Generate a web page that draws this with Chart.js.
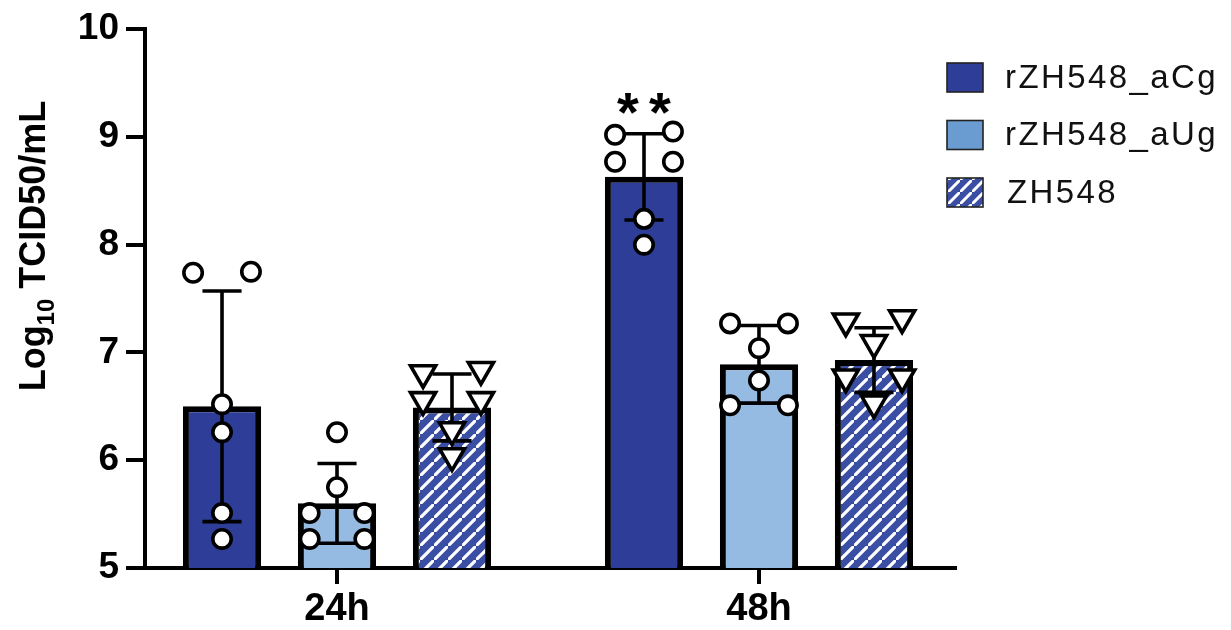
<!DOCTYPE html>
<html>
<head>
<meta charset="utf-8">
<script src="https://cdn.jsdelivr.net/npm/chart.js@4.4.0/dist/chart.umd.min.js"></script>
<style>
html,body{margin:0;padding:0;background:#fff;}
#wrap{width:1231px;height:630px;position:relative;}
canvas{display:block;}
</style>
</head>
<body>
<div id="wrap"><canvas id="c" width="1231" height="630"></canvas></div>
<script>
// ---------------- DATA ----------------
const categories = ['24h', '48h'];
const seriesNames = ['rZH548_aCg', 'rZH548_aUg', 'ZH548'];
const yTicks = [5, 6, 7, 8, 9, 10];

// bar heights (mean) and SD, per category
const meanACg = [6.50, 8.63];
const sdACg   = [1.07, 0.40];
const meanAUg = [5.60, 6.89];
const sdAUg   = [0.37, 0.36];
const meanZH  = [6.49, 6.93];
const sdZH    = [0.31, 0.30];

// individual replicate values
const repACg24 = [7.74, 7.75, 6.52, 6.26, 5.51, 5.27];
const repACg48 = [9.02, 9.05, 8.77, 8.77, 8.24, 8.00];
const repAUg24 = [6.26, 5.75, 5.51, 5.51, 5.27, 5.27];
const repAUg48 = [7.27, 7.27, 7.04, 6.74, 6.51, 6.51];
const repZH24  = [6.81, 6.84, 6.56, 6.56, 6.28, 6.04];
const repZH48  = [7.29, 7.32, 7.09, 6.77, 6.77, 6.53];

// significance labels above rZH548_aCg bars
const sigACg = ['', '**'];

// ---------------- LAYOUT / STYLE ----------------
const FONT = "'Liberation Sans', Arial, Helvetica, sans-serif";
const CAT_PCT = 0.8175, BAR_PCT = 0.68;
// horizontal scatter of replicate points, in fractions of bar width
const jitACg24 = [-0.37, 0.37, 0, 0, 0, 0];
const jitACg48 = [-0.37, 0.37, -0.37, 0.37, 0, 0];
const jitAUg24 = [0, 0, -0.35, 0.35, -0.35, 0.35];
const jitAUg48 = [-0.37, 0.37, 0, 0, -0.37, 0.37];
const jitZH24  = [-0.37, 0.37, -0.37, 0.37, 0, 0];
const jitZH48  = [-0.36, 0.36, 0, -0.36, 0.36, 0];

const COL_DARK = '#2e3e98';
const COL_LIGHT = '#95bbe2';
const COL_LIGHT_LEG = '#6a9cd2';
const COL_HATCH = '#3a4fa4';

function makeHatch(size, lw) {
  const c = document.createElement('canvas');
  c.width = size; c.height = size;
  const x = c.getContext('2d');
  x.fillStyle = COL_HATCH; x.fillRect(0, 0, size, size);
  x.strokeStyle = '#ffffff'; x.lineWidth = lw;
  x.beginPath();
  x.moveTo(-size, size * 2); x.lineTo(size * 2, -size);
  x.moveTo(-size * 2, size); x.lineTo(size, -size * 2);
  x.moveTo(0, size * 2.999); x.lineTo(size * 3, 0);
  x.stroke();
  return x.createPattern(c, 'repeat');
}
const hatch = makeHatch(14, 3.2);
const hatchLeg = makeHatch(12, 3);

const barSeries = [
  { name: seriesNames[0], mean: meanACg, sd: sdACg, fill: COL_DARK, leg: COL_DARK, reps: [repACg24, repACg48], jit: [jitACg24, jitACg48], shape: 'circle' },
  { name: seriesNames[1], mean: meanAUg, sd: sdAUg, fill: COL_LIGHT, leg: COL_LIGHT_LEG, reps: [repAUg24, repAUg48], jit: [jitAUg24, jitAUg48], shape: 'circle' },
  { name: seriesNames[2], mean: meanZH, sd: sdZH, fill: hatch, leg: hatchLeg, reps: [repZH24, repZH48], jit: [jitZH24, jitZH48], shape: 'triangle' }
];

const chunkUnits = CAT_PCT / barSeries.length;   // one bar slot, in category units
const barUnits = chunkUnits * BAR_PCT;            // bar width, in category units

const datasets = [];
barSeries.forEach((s, k) => {
  datasets.push({
    type: 'bar',
    label: s.name,
    data: categories.map((c, i) => ({ x: i, y: s.mean[i] })),
    backgroundColor: s.fill,
    borderColor: '#000',
    borderWidth: 6,
    borderSkipped: 'start',
    categoryPercentage: CAT_PCT,
    barPercentage: BAR_PCT,
    order: 3
  });
});
barSeries.forEach((s, k) => {
  const pts = [];
  categories.forEach((c, i) => {
    const center = i + (k - (barSeries.length - 1) / 2) * chunkUnits;
    s.reps[i].forEach((v, j) => pts.push({ x: center + s.jit[i][j] * barUnits, y: v }));
  });
  datasets.push({
    type: 'scatter',
    label: s.name + ' replicates',
    data: pts,
    pointStyle: s.shape,
    rotation: s.shape === 'triangle' ? 180 : 0,
    pointRadius: s.shape === 'triangle' ? 14.5 : 9.2,
    pointBackgroundColor: '#fff',
    pointBorderColor: '#000',
    pointBorderWidth: 3.6,
    showLine: false,
    order: 1
  });
});

// ---------------- PLUGINS ----------------
let errDrawn = false;
function drawErrorBars(chart) {
  const ctx = chart.ctx, yS = chart.scales.y;
  barSeries.forEach((s, k) => {
    const meta = chart.getDatasetMeta(k);
    meta.data.forEach((el, i) => {
      const x = el.x, half = el.width * 0.25;
      const yt = yS.getPixelForValue(s.mean[i] + s.sd[i]);
      const yb = yS.getPixelForValue(s.mean[i] - s.sd[i]);
      ctx.save();
      ctx.strokeStyle = '#000'; ctx.lineWidth = 3.6; ctx.lineCap = 'butt';
      ctx.beginPath();
      ctx.moveTo(x, yt); ctx.lineTo(x, yb);
      ctx.moveTo(x - half, yt); ctx.lineTo(x + half, yt);
      ctx.moveTo(x - half, yb); ctx.lineTo(x + half, yb);
      ctx.stroke();
      ctx.restore();
    });
  });
}
const errorBarPlugin = {
  id: 'errorBars',
  beforeDatasetsDraw() { errDrawn = false; },
  beforeDatasetDraw(chart, args) {
    if (!errDrawn && chart.data.datasets[args.index].type === 'scatter') {
      drawErrorBars(chart); errDrawn = true;
    }
  },
  afterDatasetsDraw(chart) {
    if (!errDrawn) { drawErrorBars(chart); errDrawn = true; }
    // significance stars
    const ctx = chart.ctx, yS = chart.scales.y;
    const meta = chart.getDatasetMeta(0);
    sigACg.forEach((txt, i) => {
      if (!txt) return;
      const el = meta.data[i];
      const yTop = yS.getPixelForValue(meanACg[i] + sdACg[i]);
      ctx.save();
      ctx.fillStyle = '#000';
      ctx.font = '700 56px ' + FONT;
      ctx.textAlign = 'center'; ctx.textBaseline = 'alphabetic';
      const n = txt.length, gap = 32;
      for (let q = 0; q < n; q++) {
        ctx.fillText(txt[q], el.x + (q - (n - 1) / 2) * gap, yTop - 3);
      }
      ctx.restore();
    });
  }
};

const axisTitlePlugin = {
  id: 'axisTitle',
  afterDraw(chart) {
    const ctx = chart.ctx;
    ctx.save();
    ctx.translate(45, 246);
    ctx.rotate(-Math.PI / 2);
    ctx.fillStyle = '#000';
    ctx.textBaseline = 'alphabetic';
    ctx.textAlign = 'left';
    const mainF = '700 36px ' + FONT, subF = '700 24px ' + FONT;
    const p1 = 'Log', p2 = '10', p3 = ' TCID50/mL';
    ctx.font = mainF; const w1 = ctx.measureText(p1).width, w3 = ctx.measureText(p3).width;
    ctx.font = subF; const w2 = ctx.measureText(p2).width;
    let x = -(w1 + w2 + w3) / 2;
    ctx.font = mainF; ctx.fillText(p1, x, 0); x += w1;
    ctx.font = subF; ctx.fillText(p2, x, 9); x += w2;
    ctx.font = mainF; ctx.fillText(p3, x, 0);
    ctx.restore();
  }
};

const legendPlugin = {
  id: 'customLegend',
  afterDraw(chart) {
    const ctx = chart.ctx;
    barSeries.forEach((s, k) => {
      const bx = 947, by = 63 + k * 57.5, bw = 36, bh = 29;
      ctx.save();
      ctx.fillStyle = s.leg;
      ctx.fillRect(bx, by, bw, bh);
      ctx.strokeStyle = '#222'; ctx.lineWidth = 1.6;
      ctx.strokeRect(bx, by, bw, bh);
      ctx.fillStyle = '#111';
      ctx.font = '400 33px ' + FONT;
      if ('letterSpacing' in ctx) ctx.letterSpacing = '2.4px';
      ctx.textAlign = 'left'; ctx.textBaseline = 'middle';
      ctx.fillText(s.name, k === 2 ? 1007 : 1005, by + bh / 2 + 1);
      ctx.restore();
    });
  }
};

// ---------------- CHART ----------------
new Chart(document.getElementById('c'), {
  type: 'bar',
  data: { datasets },
  options: {
    responsive: false,
    animation: false,
    devicePixelRatio: 1,
    layout: { padding: { left: 0, top: 27, right: 276, bottom: 0 } },
    plugins: { legend: { display: false }, tooltip: { enabled: false } },
    scales: {
      x: {
        type: 'linear',
        offset: false,
        min: -0.455,
        max: 1.4645,
        afterBuildTicks: ax => { ax.ticks = categories.map((c, i) => ({ value: i })); },
        afterFit: s => { s.height = 62; },
        ticks: {
          autoSkip: false, maxRotation: 0, padding: 3, color: '#000',
          font: { family: FONT, size: 38, weight: '700' },
          callback: v => categories[v] !== undefined ? categories[v] : ''
        },
        grid: { display: true, offset: false, drawOnChartArea: false, drawTicks: true, tickLength: 16, color: '#000', lineWidth: 4 },
        border: { display: true, color: '#000', width: 4 }
      },
      y: {
        type: 'linear',
        min: yTicks[0],
        max: yTicks[yTicks.length - 1],
        afterBuildTicks: ax => { ax.ticks = yTicks.map(v => ({ value: v })); },
        afterFit: s => { s.width = 145; },
        ticks: {
          padding: 7, color: '#000',
          font: { family: FONT, size: 37, weight: '700' }
        },
        grid: { display: true, drawOnChartArea: false, drawTicks: true, tickLength: 19, color: '#000', lineWidth: 4 },
        border: { display: true, color: '#000', width: 4 }
      }
    }
  },
  plugins: [errorBarPlugin, axisTitlePlugin, legendPlugin]
});
</script>
</body>
</html>
